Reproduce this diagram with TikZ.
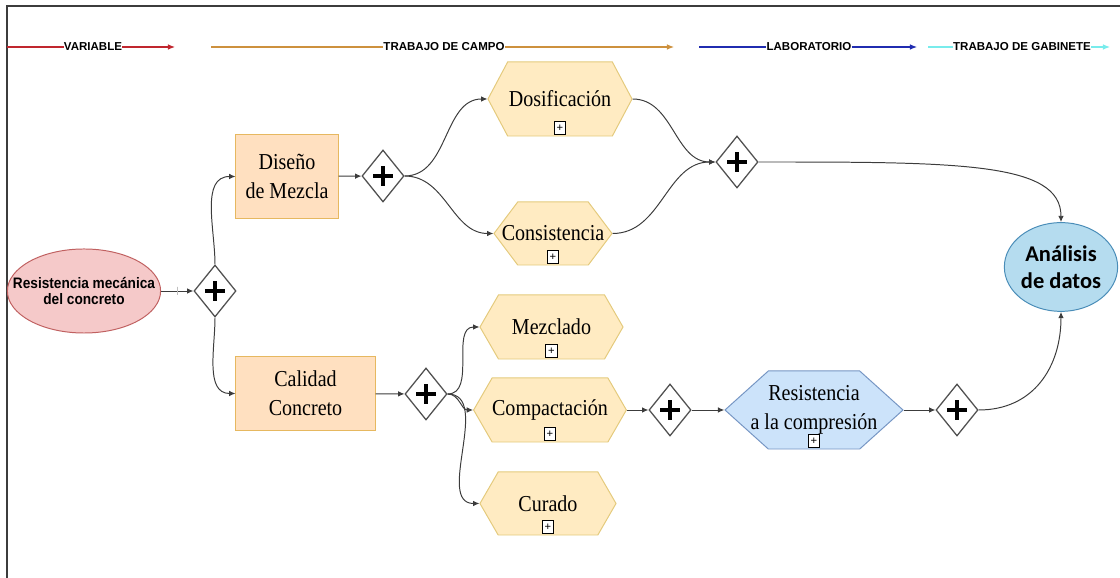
\documentclass[tikz,border=0pt]{standalone}
\usepackage{fontspec}
\setmainfont[FakeStretch=0.88]{Liberation Serif}
\setsansfont{Liberation Sans}
\newfontfamily\narrowsans[FakeStretch=0.9]{Liberation Sans}
\newfontfamily\calibri{Carlito}
\usetikzlibrary{shapes.geometric, shapes.symbols, arrows.meta}
\definecolor{legred}{RGB}{192,38,46}
\definecolor{legorange}{RGB}{205,145,62}
\definecolor{legblue}{RGB}{32,44,176}
\definecolor{legcyan}{RGB}{120,236,236}
\definecolor{boxfill}{RGB}{255,224,192}
\definecolor{boxdraw}{RGB}{230,184,96}
\definecolor{hexfill}{RGB}{255,235,194}
\definecolor{hexdraw}{RGB}{228,202,124}
\definecolor{labfill}{RGB}{204,227,250}
\definecolor{labdraw}{RGB}{118,150,196}
\definecolor{varfill}{RGB}{245,201,201}
\definecolor{vardraw}{RGB}{192,96,96}
\definecolor{anafill}{RGB}{181,220,239}
\definecolor{anadraw}{RGB}{74,141,184}
\definecolor{gatedraw}{RGB}{80,80,80}
\definecolor{flowgray}{RGB}{60,60,60}
\begin{document}
\begin{tikzpicture}[x=0.025cm, y=0.025cm,
    legtext/.style={font=\sffamily\bfseries\fontsize{8.2}{9}\selectfont, inner sep=0pt},
    box/.style={rectangle, draw=boxdraw, fill=boxfill, line width=0.7pt, align=center, inner sep=0pt,
      font=\fontsize{16.2}{20.5}\selectfont},
    hexa/.style={signal, signal to=east and west, signal pointer angle=120, draw=hexdraw, fill=hexfill,
      line width=0.7pt, align=center, inner sep=0pt, font=\fontsize{16.2}{20.5}\selectfont},
    gate/.style={diamond, aspect=0.8, draw=gatedraw, fill=white, line width=0.9pt, inner sep=0pt,
      minimum width=1.05cm, minimum height=1.3cm,
      path picture={\draw[line width=3.4pt, black]
        ([xshift=-0.25cm]path picture bounding box.center) -- ([xshift=0.25cm]path picture bounding box.center)
        ([yshift=-0.25cm]path picture bounding box.center) -- ([yshift=0.25cm]path picture bounding box.center);}},
    plusbox/.style={draw=black, fill=white, line width=0.6pt, inner sep=0pt, anchor=south,
      minimum width=0.29cm, minimum height=0.33cm, font=\sffamily\fontsize{8}{8}\selectfont},
    flow/.style={draw=flowgray, line width=0.7pt, -{Latex[length=4.5pt,width=4pt]}},
    tickmark/.style={draw=gray!50, inner sep=0pt, minimum width=0pt, minimum height=0.2cm}]
    \useasboundingbox (0,0) rectangle (1120,578);
    \draw[flowgray, line width=1pt] (1120,572) -- (7,572) -- (7,0);

    % legend
    \foreach \i/\col/\xa/\xt/\xb/\lab in {1/legred/7/93/175/VARIABLE, 2/legorange/211/444/674/TRABAJO DE CAMPO,
        3/legblue/699/809/917/LABORATORIO, 4/legcyan/928/1022/1110/TRABAJO DE GABINETE} {
        \node[legtext] (lg\i) at (\xt,531) {\lab};
        \coordinate (lga\i) at (\xa,531);
        \coordinate (lgb\i) at (\xb,531);
        \draw[\col, line width=0.8pt] (lga\i) -- (lg\i.west);
        \draw[\col, line width=0.8pt, -{Latex[length=5pt,width=4pt]}] (lg\i.east) -- (lgb\i);
    }

    % nodes
    \node[ellipse, draw=vardraw, fill=varfill, line width=0.7pt, inner sep=0pt, inner xsep=-12pt,
      minimum width=3.8cm, minimum height=2.1cm,
      align=center, font=\narrowsans\bfseries\fontsize{10.8}{12}\selectfont] (res) at (84,287) {Resistencia mecánica\\del concreto};
    \node[gate] (d1) at (215,287) {};
    \node[box, minimum width=2.55cm, minimum height=2.075cm] (dis) at (287,401.5) {Diseño\\de Mezcla};
    \node[gate] (d2) at (383,402) {};
    \node[hexa, signal pointer angle=124, minimum width=3.6cm, minimum height=1.85cm] (dos) at (560,479) {Dosificación};
    \node[hexa, signal pointer angle=106, inner xsep=-12pt, minimum width=2.95cm, minimum height=1.575cm]
      (con) at (553,344.5) {Consistencia};
    \node[gate] (d3) at (737,416) {};
    \node[ellipse, draw=anadraw, fill=anafill, line width=0.7pt, inner sep=0pt, minimum width=2.83cm, minimum height=2.22cm,
      align=center, font=\calibri\bfseries\fontsize{16}{19}\selectfont] (ana) at (1061,311) {Análisis\\de datos};
    \node[box, minimum width=3.475cm, minimum height=1.825cm] (cal) at (305.5,184.5) {Calidad\\Concreto};
    \node[gate] (d4) at (426,184) {};
    \node[hexa, minimum width=3.575cm, minimum height=1.6cm] (mez) at (551.5,251) {Mezclado};
    \node[hexa, minimum width=3.75cm, minimum height=1.6cm] (com) at (550,168) {Compactación};
    \node[hexa, minimum width=3.4cm, minimum height=1.575cm] (cur) at (548,74.5) {Curado};
    \node[gate] (d5) at (670,168) {};
    \node[hexa, signal pointer angle=84, inner xsep=-13pt, draw=labdraw, fill=labfill, minimum width=4.45cm, minimum height=1.95cm]
      (resi) at (814,168) {Resistencia\\a la compresión};
    \node[gate] (d6) at (957,168) {};
    \foreach \h in {dos,con,mez,com,cur,resi}
        \node[plusbox] (\h-p) at ([yshift=1pt]\h.south) {+};

    % connectors
    \draw[flow] (res) -- node[tickmark] {} (d1);
    \draw[flow] (d1.north) to[out=90, in=180] (dis.west);
    \draw[flow] (d1.south) to[out=-90, in=180] (cal.west);
    \draw[flow] (dis) -- (d2);
    \draw[flow] (d2.east) to[out=0, in=180] (dos.west);
    \draw[flow] (d2.east) to[out=0, in=180] (con.west);
    \draw[flow] (dos.east) to[out=0, in=180] (d3.west);
    \draw[flow] (con.east) to[out=0, in=180] (d3.west);
    \draw[flow] (d3.east) .. controls +(200,0) and +(0,60) .. (ana.north);
    \draw[flow] (cal) -- (d4);
    \draw[flow] (d4.east) to[out=0, in=180] (mez.west);
    \draw[flow] (d4.east) to[out=0, in=180] (com.west);
    \draw[flow] (d4.east) to[out=0, in=180] (cur.west);
    \draw[flow] (com.east) -- (d5.west);
    \draw[flow] (d5.east) -- (resi.west);
    \draw[flow] (resi.east) -- (d6.west);
    \draw[flow] (d6.east) .. controls +(55,0) and +(0,-55) .. (ana.south);
\end{tikzpicture}
\end{document}
